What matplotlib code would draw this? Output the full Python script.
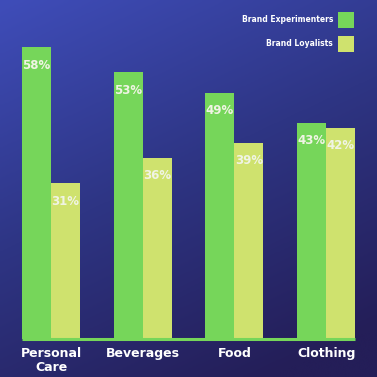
import numpy as np
import matplotlib
matplotlib.use("Agg")
import matplotlib.pyplot as plt
from matplotlib.colors import LinearSegmentedColormap
from matplotlib.patches import Rectangle

categories = ["Personal\nCare", "Beverages", "Food", "Clothing"]
experimenters = [58, 53, 49, 43]
loyalists = [31, 36, 39, 42]
series_names = ["Brand Experimenters", "Brand Loyalists"]

c_exp = "#76D65A"
c_loy = "#CFE26E"

fig = plt.figure(figsize=(3.77, 3.77), dpi=100)

# gradient background
bg = fig.add_axes([0, 0, 1, 1])
bg.set_axis_off()
yy, xx = np.mgrid[0:1:200j, 0:1:200j]
t = np.clip(0.75 * yy + 0.35 * xx, 0, 1)
cmap = LinearSegmentedColormap.from_list("bg", ["#3F4DB9", "#2E3584", "#241E58"])
bg.imshow(t, cmap=cmap, aspect="auto", extent=[0, 1, 1, 0], interpolation="bicubic")
bg.set_xlim(0, 1)
bg.set_ylim(1, 0)

ax = fig.add_axes([0, 38 / 377, 1, 339 / 377])
ax.set_facecolor("none")
x = np.arange(len(categories))
w = 0.317
ax.bar(x - w / 2, experimenters, width=w, color=c_exp, linewidth=0)
ax.bar(x + w / 2, loyalists, width=w, color=c_loy, linewidth=0)
ax.plot([x[0] - w, x[-1] + w], [0, 0], color=c_exp, lw=2.2, solid_capstyle="butt", clip_on=False)

for xi, v in zip(x, experimenters):
    ax.annotate(f"{v}%", (xi - w / 2, v), xytext=(0, -13), textcoords="offset points",
                ha="center", va="center", color="#F0F4E4", fontsize=8.5, fontweight="bold")
for xi, v in zip(x, loyalists):
    ax.annotate(f"{v}%", (xi + w / 2, v), xytext=(0, -13), textcoords="offset points",
                ha="center", va="center", color="#F0F4E4", fontsize=8.5, fontweight="bold")

for xi, lab in zip(x, categories):
    ax.annotate(lab, (xi, 0), xytext=(0, -6), textcoords="offset points",
                ha="center", va="top", color="white", fontsize=9, fontweight="bold",
                linespacing=1.1, annotation_clip=False)

ax.set_xlim(-51 / 91.7, (377 - 51) / 91.7)
ax.set_ylim(0, 339 / 5.03)
ax.set_axis_off()

# legend
for i, (name, col) in enumerate(zip(series_names, [c_exp, c_loy])):
    yc = 1 - (20 + 24 * i) / 377
    fig.patches.append(Rectangle((338 / 377, yc - 8 / 377), 16 / 377, 16 / 377,
                                 transform=fig.transFigure, facecolor=col, edgecolor="none"))
    fig.text(333 / 377, yc, name, ha="right", va="center", color="white",
             fontsize=5.5, fontweight="bold")

fig.savefig("out.png", dpi=100)
